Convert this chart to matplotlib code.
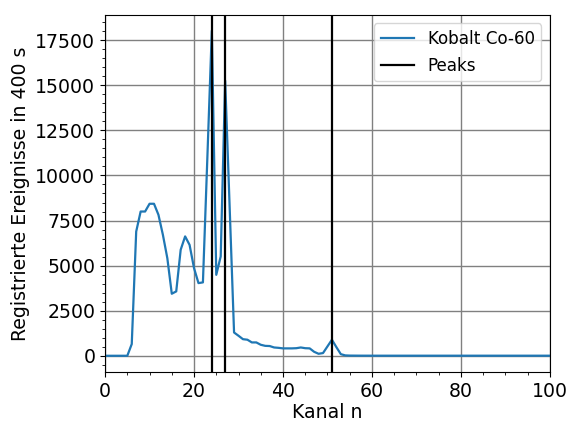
import numpy as np
import matplotlib
matplotlib.use("Agg")
import matplotlib.pyplot as plt
from matplotlib.ticker import AutoMinorLocator

plt.rcParams["font.size"] = 13.6

# Counts per channel (Co-60 spectrum, 400 s measurement)
kanal = np.arange(0, 101)
ereignisse_start = [0, 0, 0, 0, 0, 0, 650, 6890, 8000, 8000,
                    8430, 8430, 7820, 6710, 5410, 3440, 3570, 5880, 6620, 6150,
                    4860, 4030, 4070, 11000, 18030, 4490, 5510, 15260, 8300, 1290,
                    1110, 920, 890, 740, 740, 610, 550, 540, 460, 440,
                    410, 410, 410, 420, 460, 420, 410, 220, 110, 150,
                    520, 890, 480, 90, 20, 10, 8, 6, 5, 5]
ereignisse = np.array(ereignisse_start + [4] * (len(kanal) - len(ereignisse_start)))

peaks = [24, 27, 51]

fig = plt.figure(figsize=(5.71, 4.21), dpi=100)
ax = fig.add_axes([0.184, 0.1164, 0.779, 0.848])

ax.plot(kanal, ereignisse, color="tab:blue", lw=1.6, label="Kobalt Co-60")
for i, p in enumerate(peaks):
    ax.axvline(p, color="black", lw=1.6, label="Peaks" if i == 0 else None)

ax.set_xlim(0, 100)
ax.set_ylim(-900, 18900)
ax.set_yticks(np.arange(0, 17501, 2500))
ax.set_xticks(np.arange(0, 101, 20))
ax.xaxis.set_minor_locator(AutoMinorLocator(4))
ax.yaxis.set_minor_locator(AutoMinorLocator(5))
ax.grid(True, which="major", color="gray", lw=1)
ax.set_axisbelow(True)

ax.set_xlabel("Kanal n", labelpad=2)
ax.set_ylabel("Registrierte Ereignisse in 400 s")
ax.legend(loc="upper right", fontsize=12.1)

fig.savefig("out.png", dpi=100)
